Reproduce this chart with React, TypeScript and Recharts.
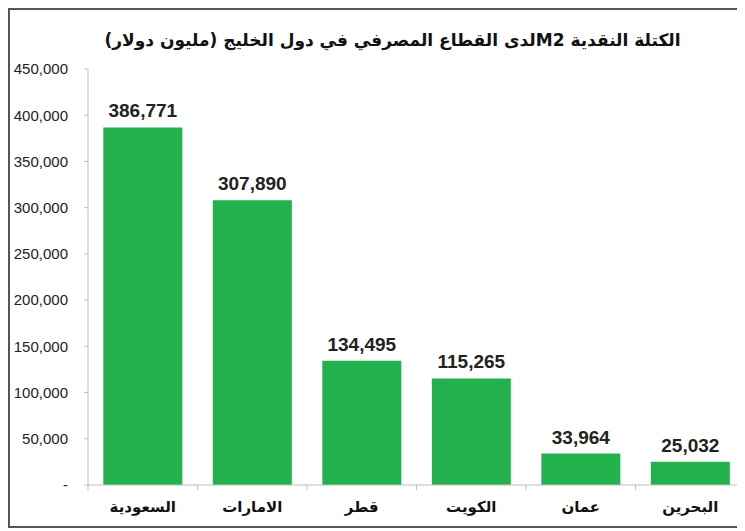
import React from 'react';
import { BarChart, Bar, XAxis, YAxis, LabelList } from 'recharts';

const countries = ['السعودية', 'الامارات', 'قطر', 'الكويت', 'عمان', 'البحرين'];
const m2Values = [386771, 307890, 134495, 115265, 33964, 25032];
const yTicks = [0, 50000, 100000, 150000, 200000, 250000, 300000, 350000, 400000, 450000];

const chartData = countries.map((name, i) => ({ name, value: m2Values[i] }));

const fmt = (v: number) => (v === 0 ? '-' : v.toLocaleString('en-US'));

// Excel style: tick marks between the categories, label centered
function CountryTick(props: any) {
  const { x, y, payload, index } = props;
  const half = 109.5 / 2;
  return (
    <g>
      {index === 0 && (
        <line x1={x - half} y1={y - 7} x2={x - half} y2={y - 2} stroke="#bfbfbf" />
      )}
      <line x1={x + half} y1={y - 7} x2={x + half} y2={y - 2} stroke="#bfbfbf" />
      <text
        x={x}
        y={y + 20}
        textAnchor="middle"
        fill="#111"
        fontSize={15}
        fontWeight="bold"
        fontFamily="'DejaVu Sans', Arial, sans-serif"
      >
        {payload.value}
      </text>
    </g>
  );
}

export default function App() {
  return (
    <div
      style={{
        position: 'relative',
        width: 737,
        height: 520,
        borderTop: '2px solid #555',
        borderLeft: '2px solid #555',
        borderBottom: '2px solid #555',
        boxSizing: 'border-box',
        background: '#fff',
        fontFamily: 'Arial, "Liberation Sans", sans-serif',
      }}
    >
      <div
        dir="rtl"
        style={{
          position: 'absolute',
          top: 20,
          left: 0,
          width: 765,
          textAlign: 'center',
          fontSize: 17,
          fontWeight: 'bold',
          color: '#111',
          fontFamily: "'DejaVu Sans', Arial, sans-serif",
        }}
      >
        الكتلة النقدية  M2لدى القطاع المصرفي في دول الخليج (مليون دولار)
      </div>
      <BarChart
        width={735}
        height={516}
        data={chartData}
        margin={{ top: 59, right: 0, left: 0, bottom: 11 }}
        barCategoryGap="14%"
      >
        <YAxis
          domain={[0, 450000]}
          ticks={yTicks}
          interval={0}
          width={78}
          tickFormatter={fmt}
          axisLine={{ stroke: '#bfbfbf' }}
          tickLine={{ stroke: '#bfbfbf' }}
          tickSize={4}
          tickMargin={16}
          tick={{ fontSize: 15, fill: '#222', fontFamily: 'Arial, "Liberation Sans", sans-serif' }}
        />
        <XAxis
          dataKey="name"
          height={30}
          interval={0}
          axisLine={{ stroke: '#bfbfbf' }}
          tickLine={false}
          tickSize={5}
          tick={<CountryTick />}
        />
        <Bar dataKey="value" fill="#22b14c" isAnimationActive={false}>
          <LabelList
            dataKey="value"
            position="top"
            offset={10}
            formatter={(v: any) => fmt(Number(v))}
            style={{ fontSize: 19, fontWeight: 'bold', fill: '#222', fontFamily: 'Arial, "Liberation Sans", sans-serif' }}
          />
        </Bar>
      </BarChart>
    </div>
  );
}
